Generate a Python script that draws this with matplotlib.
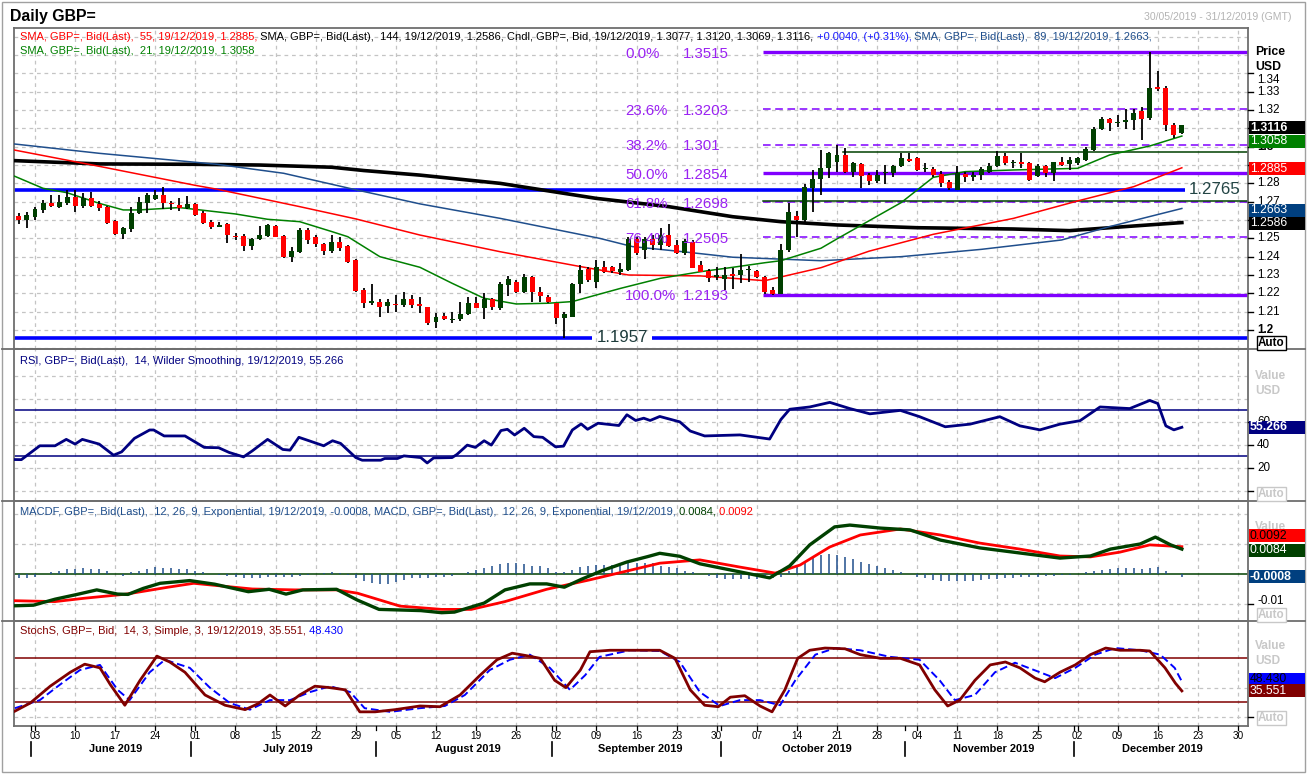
import numpy as np
import pandas as pd
import matplotlib
matplotlib.use('Agg')
import matplotlib.pyplot as plt
from matplotlib.patches import Rectangle
from matplotlib.lines import Line2D

# ---------------------------------------------------------------- data
start_date, end_date = '2019-05-30', '2019-12-19'
opens = [1.2622, 1.2600,
         1.2618, 1.2655, 1.2695, 1.2673, 1.2695,
         1.2724, 1.2678, 1.2718, 1.2688, 1.2669,
         1.2597, 1.2524, 1.2551, 1.2637, 1.2695,
         1.2715, 1.2737, 1.2695, 1.2682, 1.2668,
         1.2688, 1.2640, 1.2591, 1.2564, 1.2578,
         1.2513, 1.2513, 1.2458, 1.2495, 1.2513,
         1.2568, 1.2513, 1.2400, 1.2427, 1.2546,
         1.2506, 1.2469, 1.2431, 1.2478, 1.2458,
         1.2382, 1.2218, 1.2149, 1.2151, 1.2133,
         1.2142, 1.2136, 1.2167, 1.2142, 1.2124,
         1.2045, 1.2076, 1.2055, 1.2058, 1.2087,
         1.2146, 1.2122, 1.2167, 1.2122, 1.2246,
         1.2264, 1.2209, 1.2291, 1.2207, 1.2182,
         1.2146, 1.2064, 1.2073, 1.2249, 1.2331,
         1.2264, 1.2342, 1.2342, 1.2318, 1.2327,
         1.2497, 1.2437, 1.2497, 1.2464, 1.2518,
         1.2464, 1.2422, 1.2482, 1.2355, 1.2324,
         1.2291, 1.2276, 1.2306, 1.2300, 1.2327,
         1.2322, 1.2291, 1.2218, 1.2196, 1.2437,
         1.2622, 1.2600, 1.2777, 1.2822, 1.2882,
         1.2919, 1.2955, 1.2860, 1.2906, 1.2846,
         1.2815, 1.2855, 1.2855, 1.2895, 1.2933,
         1.2940, 1.2879, 1.2879, 1.2851, 1.2809,
         1.2764, 1.2849, 1.2837, 1.2846, 1.2864,
         1.2895, 1.2950, 1.2911, 1.2915, 1.2910,
         1.2840, 1.2895, 1.2859, 1.2915, 1.2904,
         1.2910, 1.2928, 1.2982, 1.3095, 1.3150,
         1.3131, 1.3137, 1.3146, 1.3195, 1.3155,
         1.3324, 1.3319, 1.3117, 1.3077]
highs = [1.2640, 1.2646,
         1.2673, 1.2709, 1.2737, 1.2737, 1.2764,
         1.2764, 1.2746, 1.2755, 1.2704, 1.2677,
         1.2600, 1.2564, 1.2673, 1.2724, 1.2746,
         1.2764, 1.2782, 1.2706, 1.2718, 1.2731,
         1.2695, 1.2651, 1.2600, 1.2591, 1.2582,
         1.2531, 1.2524, 1.2500, 1.2568, 1.2578,
         1.2573, 1.2518, 1.2455, 1.2555, 1.2555,
         1.2518, 1.2473, 1.2518, 1.2509, 1.2464,
         1.2386, 1.2227, 1.2251, 1.2167, 1.2167,
         1.2191, 1.2206, 1.2189, 1.2182, 1.2127,
         1.2091, 1.2091, 1.2100, 1.2151, 1.2182,
         1.2182, 1.2200, 1.2173, 1.2264, 1.2295,
         1.2273, 1.2306, 1.2295, 1.2236, 1.2191,
         1.2149, 1.2100, 1.2258, 1.2355, 1.2346,
         1.2382, 1.2378, 1.2349, 1.2364, 1.2509,
         1.2509, 1.2509, 1.2518, 1.2555, 1.2578,
         1.2491, 1.2498, 1.2491, 1.2378, 1.2331,
         1.2346, 1.2346, 1.2337, 1.2415, 1.2349,
         1.2327, 1.2295, 1.2236, 1.2469, 1.2695,
         1.2651, 1.2797, 1.2873, 1.2982, 1.2973,
         1.3010, 1.2991, 1.2919, 1.2913, 1.2855,
         1.2873, 1.2900, 1.2900, 1.2964, 1.2964,
         1.2946, 1.2910, 1.2891, 1.2869, 1.2819,
         1.2895, 1.2864, 1.2864, 1.2888, 1.2913,
         1.2977, 1.2964, 1.2928, 1.2968, 1.2919,
         1.2904, 1.2900, 1.2919, 1.2942, 1.2942,
         1.2946, 1.2997, 1.3110, 1.3164, 1.3159,
         1.3173, 1.3204, 1.3204, 1.3219, 1.3515,
         1.3413, 1.3332, 1.3128, 1.3120]
lows = [1.2577, 1.2555,
        1.2600, 1.2637, 1.2673, 1.2664, 1.2682,
        1.2646, 1.2664, 1.2673, 1.2649, 1.2577,
        1.2518, 1.2497, 1.2537, 1.2633, 1.2637,
        1.2709, 1.2660, 1.2655, 1.2651, 1.2658,
        1.2622, 1.2578, 1.2549, 1.2560, 1.2477,
        1.2491, 1.2433, 1.2437, 1.2491, 1.2509,
        1.2506, 1.2391, 1.2373, 1.2418, 1.2469,
        1.2451, 1.2409, 1.2422, 1.2433, 1.2367,
        1.2209, 1.2118, 1.2136, 1.2073, 1.2091,
        1.2100, 1.2127, 1.2118, 1.2091, 1.2027,
        1.2013, 1.2055, 1.2040, 1.2051, 1.2082,
        1.2118, 1.2060, 1.2109, 1.2109, 1.2187,
        1.2200, 1.2200, 1.2155, 1.2155, 1.2146,
        1.2031, 1.1957, 1.2073, 1.2204, 1.2264,
        1.2227, 1.2309, 1.2313, 1.2300, 1.2324,
        1.2409, 1.2386, 1.2437, 1.2437, 1.2455,
        1.2415, 1.2409, 1.2337, 1.2315, 1.2264,
        1.2273, 1.2218, 1.2222, 1.2258, 1.2264,
        1.2282, 1.2195, 1.2193, 1.2196, 1.2427,
        1.2509, 1.2591, 1.2646, 1.2737, 1.2828,
        1.2864, 1.2855, 1.2833, 1.2777, 1.2791,
        1.2800, 1.2797, 1.2837, 1.2891, 1.2919,
        1.2868, 1.2864, 1.2837, 1.2782, 1.2764,
        1.2764, 1.2809, 1.2815, 1.2819, 1.2855,
        1.2891, 1.2900, 1.2882, 1.2882, 1.2815,
        1.2833, 1.2833, 1.2815, 1.2895, 1.2873,
        1.2900, 1.2922, 1.2977, 1.3091, 1.3088,
        1.3106, 1.3095, 1.3091, 1.3037, 1.3146,
        1.3306, 1.3088, 1.3046, 1.3069]
closes = [1.2600, 1.2628,
          1.2660, 1.2695, 1.2678, 1.2698, 1.2728,
          1.2678, 1.2718, 1.2678, 1.2668, 1.2586,
          1.2524, 1.2558, 1.2640, 1.2697, 1.2737,
          1.2737, 1.2691, 1.2686, 1.2668, 1.2688,
          1.2628, 1.2586, 1.2564, 1.2573, 1.2518,
          1.2506, 1.2458, 1.2495, 1.2518, 1.2573,
          1.2509, 1.2397, 1.2431, 1.2546, 1.2491,
          1.2469, 1.2431, 1.2478, 1.2449, 1.2371,
          1.2213, 1.2146, 1.2158, 1.2127, 1.2151,
          1.2138, 1.2167, 1.2138, 1.2131, 1.2036,
          1.2073, 1.2058, 1.2060, 1.2087, 1.2147,
          1.2122, 1.2169, 1.2124, 1.2251, 1.2276,
          1.2209, 1.2291, 1.2206, 1.2187, 1.2155,
          1.2064, 1.2087, 1.2251, 1.2327, 1.2273,
          1.2342, 1.2318, 1.2322, 1.2335, 1.2497,
          1.2422, 1.2497, 1.2464, 1.2518, 1.2458,
          1.2422, 1.2487, 1.2340, 1.2318, 1.2282,
          1.2300, 1.2300, 1.2296, 1.2327, 1.2333,
          1.2287, 1.2209, 1.2196, 1.2437, 1.2646,
          1.2600, 1.2782, 1.2822, 1.2886, 1.2964,
          1.2955, 1.2860, 1.2913, 1.2842, 1.2815,
          1.2846, 1.2860, 1.2897, 1.2937, 1.2924,
          1.2873, 1.2882, 1.2846, 1.2804, 1.2773,
          1.2859, 1.2837, 1.2846, 1.2879, 1.2895,
          1.2950, 1.2913, 1.2915, 1.2908, 1.2819,
          1.2895, 1.2859, 1.2915, 1.2900, 1.2928,
          1.2937, 1.2990, 1.3095, 1.3153, 1.3128,
          1.3137, 1.3146, 1.3186, 1.3151, 1.3319,
          1.3315, 1.3119, 1.3064, 1.3116]

# moving averages: (trading day since 3 Jun 2019, value)
sma21 = [(-2.6, 1.2840), (1, 1.2773), (4, 1.2749), (8, 1.2691), (11, 1.2655), (13, 1.2655),
         (18, 1.2668), (20, 1.2658), (25, 1.2633), (29, 1.2604), (33, 1.2591), (37, 1.2537),
         (39, 1.2509), (43, 1.2400), (48, 1.2342), (52, 1.2255), (56, 1.2173), (60, 1.2142),
         (64, 1.2146), (67, 1.2155), (73, 1.2227), (78, 1.2282), (83, 1.2318), (87, 1.2342),
         (91, 1.2367), (93, 1.2378), (98, 1.2446), (100, 1.2497), (108, 1.2695), (112, 1.2833),
         (116, 1.2864), (122, 1.2873), (130, 1.2882), (134, 1.2955), (139, 1.3004), (143, 1.3058)]
sma55 = [(-2.6, 1.2982), (8, 1.2893), (20, 1.2789), (22.7, 1.2768), (33, 1.2673), (40, 1.2606),
         (48, 1.2518), (58, 1.2427), (68, 1.2346), (74, 1.2300), (83, 1.2295), (91, 1.2269),
         (98, 1.2340), (104, 1.2430), (112, 1.2522), (122, 1.2609), (130, 1.2704), (137, 1.2782),
         (143, 1.2885)]
sma89 = [(-2.6, 1.3015), (8, 1.2964), (22.7, 1.2904), (31, 1.2855), (39.7, 1.2768), (48, 1.2688),
         (58, 1.2609), (70.4, 1.2500), (74.5, 1.2455), (80.8, 1.2427), (87, 1.2397), (98, 1.2378),
         (108, 1.2400), (118, 1.2440), (128, 1.2491), (134, 1.2564), (143, 1.2663)]
sma144 = [(-2.6, 1.2924), (8, 1.2906), (20, 1.2904), (28, 1.2900), (37, 1.2888), (41, 1.2870),
          (48, 1.2845), (58, 1.2800), (70, 1.2718), (79, 1.2673), (87, 1.2618), (93, 1.2591),
          (100, 1.2573), (110, 1.2558), (122, 1.2551), (129, 1.2542), (134, 1.2558), (143, 1.2586)]

fib_pct = ['0.0%', '23.6%', '38.2%', '50.0%', '61.8%', '76.4%', '100.0%']
fib_txt = ['1.3515', '1.3203', '1.301', '1.2854', '1.2698', '1.2505', '1.2193']
fib_val = [1.3515, 1.3203, 1.3010, 1.2854, 1.2698, 1.2505, 1.2193]
fib_solid = [True, False, False, True, False, False, True]
support_hi, support_lo = 1.2765, 1.1957
green_levels = [(100.7, 1.2970), (90.8, 1.2704)]   # (start day, level)
fib_start = 90.8

rsi = [(-2.6, 27.1), (-1.7, 27.0), (0.6, 39.1), (2.5, 39.1), (3.9, 44.7), (5.0, 40.6), (5.9, 44.7),
       (8.0, 40.6), (9.8, 30.9), (10.8, 33.8), (12.4, 45.6), (14.3, 52.9), (14.8, 52.9), (16.1, 47.7),
       (18.7, 47.7), (21.1, 37.7), (22.9, 37.4), (24.2, 33.3), (26.0, 29.4), (27.1, 34.7), (29.0, 44.7),
       (30.9, 35.9), (31.8, 35.3), (32.9, 46.5), (34.5, 42.7), (36.0, 39.1), (37.1, 43.5), (38.1, 41.2),
       (40.0, 28.8), (40.8, 26.5), (43.1, 26.5), (43.6, 28.0), (45.2, 28.0), (46.0, 30.3), (48.1, 28.8),
       (48.9, 24.1), (49.7, 28.5), (52.0, 28.8), (52.6, 31.5), (53.9, 39.7), (54.9, 37.7), (56.0, 43.5),
       (56.9, 39.7), (58.1, 52.4), (58.9, 53.5), (59.8, 48.5), (61.0, 54.4), (62.2, 47.1), (63.3, 46.5),
       (64.9, 38.2), (65.9, 38.8), (67.0, 52.9), (68.1, 58.2), (68.9, 53.5), (70.2, 58.8), (72.8, 56.8),
       (73.8, 66.2), (74.9, 61.2), (75.9, 63.2), (76.7, 61.2), (77.9, 64.7), (80.4, 60.0), (81.7, 52.0),
       (83.5, 47.7), (87.9, 48.6), (91.6, 45.0), (93.0, 62.0), (94.1, 71.0), (96.6, 73.0), (99.1, 77.0),
       (101.6, 71.6), (104.1, 67.0), (107.9, 70.0), (110.3, 64.5), (113.5, 55.7), (116.6, 58.0),
       (120.3, 64.5), (122.8, 56.5), (125.3, 53.0), (127.8, 58.0), (130.3, 61.0), (132.8, 73.0),
       (136.5, 71.6), (139.0, 78.7), (140.0, 76.0), (141.0, 56.5), (142.0, 53.0), (143.0, 55.266)]
rsi_levels = [70, 30]

macd = [(-2.6, -0.0105), (-0.2, -0.0103), (2.5, -0.0083), (5.1, -0.0068), (7.7, -0.0052),
        (10.3, -0.0066), (11.6, -0.0067), (13.5, -0.0047), (15.6, -0.0030), (19.3, -0.0021),
        (22.4, -0.0033), (26.6, -0.0058), (29.2, -0.0050), (31.3, -0.0066), (33.4, -0.0052),
        (37.6, -0.0050), (40.2, -0.0086), (42.9, -0.0117), (48.1, -0.0121), (50.7, -0.0128),
        (52.3, -0.0126), (56.0, -0.0096), (58.6, -0.0052), (61.7, -0.0032), (63.8, -0.0032),
        (66.0, -0.0043), (68.1, -0.0017), (70.7, 0.0012), (73.8, 0.0041), (76.4, 0.0059),
        (77.9, 0.0070), (80.4, 0.0060), (82.9, 0.0035), (87.9, 0.0008), (91.6, -0.0012),
        (94.1, 0.0028), (96.6, 0.0098), (99.7, 0.0158), (101.6, 0.0164), (105.4, 0.0154),
        (109.1, 0.0148), (112.9, 0.0114), (117.8, 0.0088), (122.8, 0.0071), (127.8, 0.0054),
        (131.6, 0.0061), (134.1, 0.0084), (137.8, 0.0101), (139.7, 0.0124), (141.6, 0.0098),
        (143.0, 0.0084)]
signal = [(-2.6, -0.0088), (2.5, -0.0091), (6.1, -0.0080), (11.4, -0.0066), (16.6, -0.0043),
          (19.8, -0.0030), (24.0, -0.0041), (27.1, -0.0049), (32.4, -0.0052), (37.6, -0.0052),
          (40.2, -0.0063), (45.5, -0.0106), (50.7, -0.0117), (54.4, -0.0117), (58.6, -0.0091),
          (63.8, -0.0050), (69.1, -0.0019), (74.3, 0.0014), (77.9, 0.0037), (82.9, 0.0048),
          (87.9, 0.0024), (92.3, 0.0004), (95.4, 0.0031), (99.1, 0.0091), (102.9, 0.0131),
          (107.9, 0.0151), (112.9, 0.0131), (117.8, 0.0104), (122.8, 0.0084), (127.8, 0.0061),
          (131.6, 0.0058), (135.3, 0.0074), (139.0, 0.0098), (143.0, 0.0092)]
macdf = [-0.0013, -0.0011,
         -0.0008, 0.0001, 0.0006, 0.0011, 0.0017,
         0.0019, 0.0022, 0.0019, 0.0018, 0.0011,
         0.0001, -0.0006, 0.0006, 0.0011, 0.0018,
         0.0023, 0.0022, 0.0020, 0.0018, 0.0017,
         0.0012, 0.0006, 0.0001, -0.0002, -0.0006,
         -0.0008, -0.0011, -0.0013, -0.0011, -0.0008,
         -0.0008, -0.0009, -0.0010, -0.0006, -0.0001,
         0.0001, 0.0003, 0.0006, 0.0003, -0.0004,
         -0.0011, -0.0021, -0.0030, -0.0033, -0.0033,
         -0.0027, -0.0019, -0.0014, -0.0013, -0.0013,
         -0.0009, -0.0008, -0.0006, 0.0000, 0.0009,
         0.0014, 0.0020, 0.0028, 0.0033, 0.0037,
         0.0037, 0.0034, 0.0029, 0.0026, 0.0020,
         0.0009, 0.0009, 0.0014, 0.0023, 0.0028,
         0.0031, 0.0031, 0.0031, 0.0026, 0.0037,
         0.0039, 0.0039, 0.0037, 0.0028, 0.0025,
         0.0020, 0.0012, 0.0008, 0.0000, -0.0006,
         -0.0012, -0.0015, -0.0016, -0.0016, -0.0016,
         -0.0015, -0.0013, -0.0013, -0.0010, 0.0010,
         0.0025, 0.0045, 0.0058, 0.0065, 0.0068,
         0.0065, 0.0058, 0.0050, 0.0042, 0.0035,
         0.0027, 0.0020, 0.0013, 0.0006, 0.0000,
         -0.0008, -0.0014, -0.0019, -0.0022, -0.0023,
         -0.0023, -0.0022, -0.0021, -0.0019, -0.0017,
         -0.0015, -0.0013, -0.0011, -0.0010, -0.0009,
         -0.0008, -0.0006, -0.0005, -0.0003, -0.0001,
         0.0002, 0.0006, 0.0011, 0.0015, 0.0018,
         0.0020, 0.0021, 0.0020, 0.0019, 0.0022,
         0.0024, 0.0012, 0.0002, -0.0008]

stoch_k = [(-2.5, 8), (-0.6, 19), (1.9, 42), (4.4, 61), (6.2, 72), (8.1, 67), (9.4, 44), (11.2, 16),
           (13.1, 50), (15.2, 83), (16.8, 75), (18.7, 61), (21.2, 30), (23.7, 16), (26.2, 10), (27.8, 18),
           (29.3, 30), (31.2, 15), (33.0, 30), (34.9, 42), (36.8, 40), (38.7, 37), (40.5, 7), (42.4, 7),
           (44.9, 10), (48.0, 15), (50.5, 14), (53.0, 30), (55.5, 57), (57.6, 78), (59.5, 87), (61.1, 84),
           (63.0, 80), (64.8, 50), (66.2, 40), (68.0, 64), (69.2, 89), (71.7, 91), (75.4, 91), (77.9, 91),
           (79.8, 80), (81.7, 37), (83.5, 16), (85.2, 14), (86.7, 27), (88.5, 29), (90.4, 15), (91.9, 7),
           (93.5, 37), (95.1, 80), (96.6, 91), (98.5, 94), (101.0, 93), (102.9, 85), (105.4, 80),
           (107.9, 80), (110.3, 71), (112.2, 37), (113.8, 15), (115.3, 23), (117.2, 50), (119.1, 71),
           (121.0, 75), (122.8, 67), (124.7, 53), (125.9, 48), (127.8, 61), (129.7, 71), (131.6, 85),
           (133.5, 94), (135.3, 91), (137.8, 91), (139.0, 90), (140.9, 67), (142.2, 46), (143.0, 35.551)]
stoch_d = [(-2.5, 12), (0.6, 23), (3.1, 44), (5.6, 64), (8.1, 71), (10.3, 37), (11.8, 23), (14.3, 61),
           (16.2, 78), (19.3, 67), (21.8, 40), (24.3, 19), (26.8, 10), (29.3, 23), (31.8, 23), (34.3, 34),
           (36.8, 42), (39.3, 34), (41.1, 12), (44.3, 7), (48.0, 12), (51.1, 15), (53.6, 30), (56.7, 64),
           (59.2, 78), (61.7, 85), (64.2, 67), (66.7, 37), (68.6, 57), (70.4, 82), (74.2, 91), (77.9, 90),
           (80.4, 75), (82.9, 34), (85.4, 15), (87.9, 23), (90.4, 23), (92.9, 16), (94.8, 50), (97.3, 85),
           (99.8, 94), (102.9, 91), (106.6, 82), (110.3, 78), (112.8, 50), (114.7, 23), (117.2, 30),
           (119.7, 61), (122.2, 74), (125.3, 61), (127.2, 53), (129.7, 67), (132.2, 85), (134.7, 94),
           (137.8, 91), (140.3, 85), (142.1, 67), (143.0, 48.43)]
stoch_levels = [80, 20]

# ---------------------------------------------------------------- layout
W, H = 1307, 775
plt.rcParams['font.family'] = ['Liberation Sans', 'DejaVu Sans']
fig = plt.figure(figsize=(W / 100, H / 100), dpi=100)
fig.patch.set_facecolor('white')
REN = fig.canvas.get_renderer()


def fx(p):
    return p / W


def fy(p):
    return 1 - p / H


PL, PR = 14, 1248
X0PX, PXDAY = 35.0, 8.02
XMIN, XMAX = (PL - X0PX) / PXDAY, (PR - X0PX) / PXDAY
GRID = '#c4c4c4'
DASH = (0, (3, 3))


def make_ax(top, bot):
    ax = fig.add_axes([fx(PL), fy(bot), (PR - PL) / W, (bot - top) / H])
    ax.set_xlim(XMIN, XMAX)
    ax.set_xticks([])
    ax.set_yticks([])
    ax.set_facecolor('white')
    for s in ax.spines.values():
        s.set_color('#6e6e6e')
        s.set_linewidth(1.3)
    return ax


ax1 = make_ax(28, 349)
ax2 = make_ax(349, 501)
ax3 = make_ax(501, 621)
ax4 = make_ax(621, 726)
ax1.set_ylim(1.18963, 1.36476)
ax2.set_ylim(-9.1, 123.6)
ax3.set_ylim(-0.01557, 0.02443)
ax4.set_ylim(-12.3, 130.9)

dates = pd.bdate_range(start_date, end_date)
base = np.datetime64('2019-06-03')
tc = np.busday_count(base, dates.values.astype('datetime64[D]')).astype(float)
n = min(len(tc), len(opens), len(highs), len(lows), len(closes))
tc = tc[:n]

mondays = pd.date_range('2019-06-03', '2019-12-30', freq='W-MON')
tm = np.busday_count(base, mondays.values.astype('datetime64[D]')).astype(float)

for ax in (ax1, ax2, ax3, ax4):
    for t in tm:
        ax.axvline(t, color=GRID, ls=DASH, lw=0.9, zorder=0)
for v in np.arange(1.19, 1.365, 0.01):
    ax1.axhline(v, color=GRID, ls=DASH, lw=0.9, zorder=0)
for v in [0, 20, 40, 60, 80, 100]:
    ax2.axhline(v, color=GRID, ls=DASH, lw=0.9, zorder=0)
for v in [-0.01, 0.01, 0.02]:
    ax3.axhline(v, color=GRID, ls=DASH, lw=0.9, zorder=0)
for v in [0, 40]:
    ax4.axhline(v, color=GRID, ls=DASH, lw=0.9, zorder=0)

# ---------------------------------------------------------------- price panel
FIB_LINE, FIB_TXT = '#8000ff', '#9a22f2'
for lvl, solid in zip(fib_val, fib_solid):
    if solid:
        ax1.plot([fib_start, XMAX], [lvl, lvl], color=FIB_LINE, lw=2.4, zorder=2, solid_capstyle='butt')
    else:
        ax1.plot([fib_start, XMAX], [lvl, lvl], color=FIB_LINE, lw=1.1, ls=(0, (5, 3)), zorder=2)
for st, lvl in green_levels:
    ax1.plot([st, XMAX], [lvl, lvl], color='#004000', lw=1.1, zorder=2)

ax1.plot([XMIN, 143.4], [support_hi, support_hi], color='#0000ff', lw=2.6, zorder=2, solid_capstyle='butt')
ax1.plot([XMIN, 69.5], [support_lo, support_lo], color='#0000ff', lw=2.6, zorder=2, solid_capstyle='butt')
ax1.plot([76.9, XMAX], [support_lo, support_lo], color='#0000ff', lw=2.6, zorder=2, solid_capstyle='butt')
ax1.text(143.9, support_hi, '%.4f' % support_hi, color='#234545', fontsize=12.2, ha='left', va='center', zorder=6)
ax1.text(73.2, support_lo, '%.4f' % support_lo, color='#1d3b3b', fontsize=12.2, ha='center', va='center', zorder=6)

for (name, series, col, lw) in [('144', sma144, '#000000', 2.6), ('89', sma89, '#1f4e8c', 1.1),
                                 ('55', sma55, '#ff0000', 1.1), ('21', sma21, '#008000', 1.1)]:
    ts, vs = zip(*series)
    ax1.plot(ts, vs, color=col, lw=lw, zorder=3, solid_joinstyle='round')

o = np.array(opens[:n]); h = np.array(highs[:n]); l = np.array(lows[:n]); c = np.array(closes[:n])
ax1.vlines(tc, l, h, color='black', lw=1.3, zorder=4)
cols = np.where(c >= o, '#003f00', '#ff0000')
ax1.bar(tc, np.maximum(np.abs(c - o), 0.0004), bottom=np.minimum(o, c), width=0.62,
        color=cols, linewidth=0, zorder=5)

for pct, txt, lvl in zip(fib_pct, fib_txt, fib_val):
    ax1.text(73.6, lvl - 0.0008, pct, color=FIB_TXT, fontsize=10.8, ha='left', va='center', zorder=6)
    ax1.text(80.8, lvl - 0.0008, txt, color=FIB_TXT, fontsize=10.8, ha='left', va='center', zorder=6)

# ---------------------------------------------------------------- RSI
for lv in rsi_levels:
    ax2.axhline(lv, color='#000080', lw=1.1, zorder=2)
ts, vs = zip(*rsi)
ax2.plot(ts, vs, color='#000080', lw=2.0, zorder=3)

# ---------------------------------------------------------------- MACD
ax3.axhline(0, color='#004000', lw=1.1, zorder=2)
nh = min(len(macdf), n)
ax3.vlines(tc[:nh], 0, macdf[:nh], color='#1f4e8c', lw=1.1, zorder=2)
ts, vs = zip(*signal)
ax3.plot(ts, vs, color='#ff0000', lw=2.0, zorder=3)
ts, vs = zip(*macd)
ax3.plot(ts, vs, color='#004000', lw=2.4, zorder=4)

# ---------------------------------------------------------------- Stochastic
for lv in stoch_levels:
    ax4.axhline(lv, color='#800000', lw=1.1, zorder=2)
ts, vs = zip(*stoch_d)
ax4.plot(ts, vs, color='#0000ff', lw=1.4, ls=(0, (4, 2)), zorder=3)
ts, vs = zip(*stoch_k)
ax4.plot(ts, vs, color='#800000', lw=2.0, zorder=4)


# ---------------------------------------------------------------- right axis
def ypx(ax, v):
    return H - ax.transData.transform((0, v))[1]


def xpx(t):
    return ax4.transData.transform((t, 0))[0]


BOXES = []   # (y_top, y_bottom) of value boxes in px


def vbox(ax, v, txt, bg, fg, dy=0, bold=False):
    y = ypx(ax, v) + dy
    BOXES.append((y - 6.5, y + 6.5))
    fig.add_artist(Rectangle((fx(1249), fy(y + 6.5)), 56 / W, 13 / H, transform=fig.transFigure,
                             facecolor=bg, edgecolor='none', zorder=20))
    fig.text(fx(1250), fy(y), txt, color=fg, fontsize=8.8, fontweight='bold' if bold else 'normal',
             ha='left', va='center', zorder=21)


def tick(ax, v, label=None, bold=False, dy=0, size=8.4):
    y = ypx(ax, v)
    fig.add_artist(Line2D([fx(PR), fx(PR + 5)], [fy(y), fy(y)], color='black', lw=1.0))
    if label is None:
        return
    yl = y + dy
    # a label whose centre lies well inside a value box is hidden there (as in the reference)
    if any(top + 2 <= yl <= bot - 2 for top, bot in BOXES):
        return
    fig.text(fx(1257), fy(yl), label, fontsize=size, fontweight='bold' if bold else 'normal',
             ha='left', va='center', color='black')


def side_text(y, txt, col, size=8.6):
    fig.text(fx(1255), fy(y), txt, color=col, fontsize=size, fontweight='bold', ha='left', va='center')


def auto_box(y, col):
    fig.text(fx(1258), fy(y), 'Auto', color=col, fontsize=8.4, fontweight='bold', ha='left', va='center',
             bbox=dict(boxstyle='square,pad=0.12', fc='white', ec=col, lw=1.0))


side_text(52, 'Price', 'black', 8.8)
side_text(67, 'USD', 'black', 8.8)
vbox(ax1, 1.3116, '1.3116', '#000000', 'white', dy=2.5, bold=True)
vbox(ax1, 1.3058, '1.3058', '#008000', 'white', dy=5)
vbox(ax1, 1.2885, '1.2885', '#ff0000', 'white', dy=1)
vbox(ax1, 1.2663, '1.2663', '#003f7f', 'white', dy=2)
vbox(ax1, 1.2586, '1.2586', '#000000', 'white', dy=0.5)
for v in np.arange(1.20, 1.345, 0.01):
    rnd = abs(v * 10 - round(v * 10)) < 1e-6
    lab = ('%.1f' % v) if rnd else ('%.2f' % v)
    tick(ax1, v, lab, bold=rnd, dy=7 if v > 1.335 else 0)
auto_box(343, 'black')

LG = '#c8c8c8'
side_text(376, 'Value', LG)
side_text(391, 'USD', LG)
vbox(ax2, 55.266, '55.266', '#000080', 'white', bold=True)
for v in [0, 20, 40, 60]:
    tick(ax2, v, None if v == 0 else str(v))
auto_box(494, LG)

side_text(527, 'Value', LG)
vbox(ax3, 0.0092, '0.0092', '#ff0000', 'black', dy=-11)
vbox(ax3, 0.0084, '0.0084', '#004000', 'white', dy=1)
vbox(ax3, -0.0008, '-0.0008', '#003f7f', 'white', bold=True)
tick(ax3, -0.01, '-0.01', dy=-3)
auto_box(615, LG)

side_text(646, 'Value', LG)
side_text(661, 'USD', LG)
vbox(ax4, 48.43, '48.430', '#0000ff', 'black', dy=-2)
vbox(ax4, 35.551, '35.551', '#800000', 'white')
tick(ax4, 0)
auto_box(718, LG)

# ---------------------------------------------------------------- x axis labels
for t, d in zip(tm, mondays):
    x = xpx(t)
    fig.add_artist(Line2D([fx(x), fx(x)], [fy(726), fy(730)], color='black', lw=0.9))
    fig.text(fx(x), fy(736), d.strftime('%d'), fontsize=7.2, ha='center', va='center')

month_first = pd.date_range('2019-06-01', '2019-12-01', freq='MS')
starts = [float(np.busday_count(base, np.busday_offset(np.datetime64(m.date()), 0, roll='forward')))
          for m in month_first]
ends = starts[1:] + [XMAX]
for m, s, e in zip(month_first, starts, ends):
    xs = xpx(s - 0.5)
    fig.add_artist(Line2D([fx(xs), fx(xs)], [fy(742), fy(756)], color='black', lw=1.2))
    fig.add_artist(Line2D([fx(xs), fx(xs)], [fy(726), fy(730)], color='black', lw=0.9))
    fig.text(fx(xpx((s + min(e, XMAX)) / 2)), fy(749), m.strftime('%B %Y'), fontsize=7.9,
             fontweight='bold', ha='center', va='center')

# ---------------------------------------------------------------- frames
for y in (349, 501, 621):
    fig.add_artist(Line2D([fx(2), fx(1305)], [fy(y), fy(y)], color='#6e6e6e', lw=1.3))
fig.add_artist(Rectangle((fx(2), fy(772)), 1303 / W, 770 / H, transform=fig.transFigure,
                         facecolor='none', edgecolor='#a0a0a0', lw=1.0))


# ---------------------------------------------------------------- header texts
def measure(s, size, weight='normal'):
    t = fig.text(0, 0, s, fontsize=size, fontweight=weight)
    w = t.get_window_extent(REN).width
    t.remove()
    return w


def rich(x, y, segs, size, weight='normal'):
    for s, col in segs:
        t = fig.text(fx(x), fy(y), s, color=col, fontsize=size, fontweight=weight, ha='left', va='center')
        x += t.get_window_extent(REN).width
    return x


line1 = [('SMA, GBP=, Bid(Last),  55, 19/12/2019, 1.2885,', '#ff0000'),
         (' SMA, GBP=, Bid(Last),  144, 19/12/2019, 1.2586, Cndl, GBP=, Bid, 19/12/2019, '
          '1.3077, 1.3120, 1.3069, 1.3116,', '#000000'),
         (' +0.0040, (+0.31%),', '#1a1aff'),
         (' SMA, GBP=, Bid(Last),  89, 19/12/2019, 1.2663,', '#1f4e8c')]
full = ''.join(s for s, _ in line1)
HS = 8.0 * 1129 / measure(full, 8.0)
rich(20, 37, line1, HS)
rich(20, 51, [('SMA, GBP=, Bid(Last),  21, 19/12/2019, 1.3058', '#008000')], HS)
rich(20, 361, [('RSI, GBP=, Bid(Last),  14, Wilder Smoothing, 19/12/2019, 55.266', '#000080')], HS)
rich(20, 512, [('MACDF, GBP=, Bid(Last),  12, 26, 9, Exponential, 19/12/2019, -0.0008, MACD, GBP=, '
                'Bid(Last),  12, 26, 9, Exponential, 19/12/2019,', '#1f4e8c'),
               (' 0.0084,', '#004000'), (' 0.0092', '#ff0000')], HS)
rich(20, 631, [('StochS, GBP=, Bid,  14, 3, Simple, 3, 19/12/2019, 35.551,', '#800000'),
               (' 48.430', '#0000ff')], HS)

TS = 11 * 86 / measure('Daily GBP=', 11, 'bold')
fig.text(fx(10), fy(16), 'Daily GBP=', fontsize=TS, fontweight='bold', ha='left', va='center')
DS = 8 * 149 / measure('30/05/2019 - 31/12/2019 (GMT)', 8)
fig.text(fx(1292), fy(17), '30/05/2019 - 31/12/2019 (GMT)', fontsize=DS, color='#b4b4b4',
         ha='right', va='center')

fig.savefig('out.png', dpi=100)
